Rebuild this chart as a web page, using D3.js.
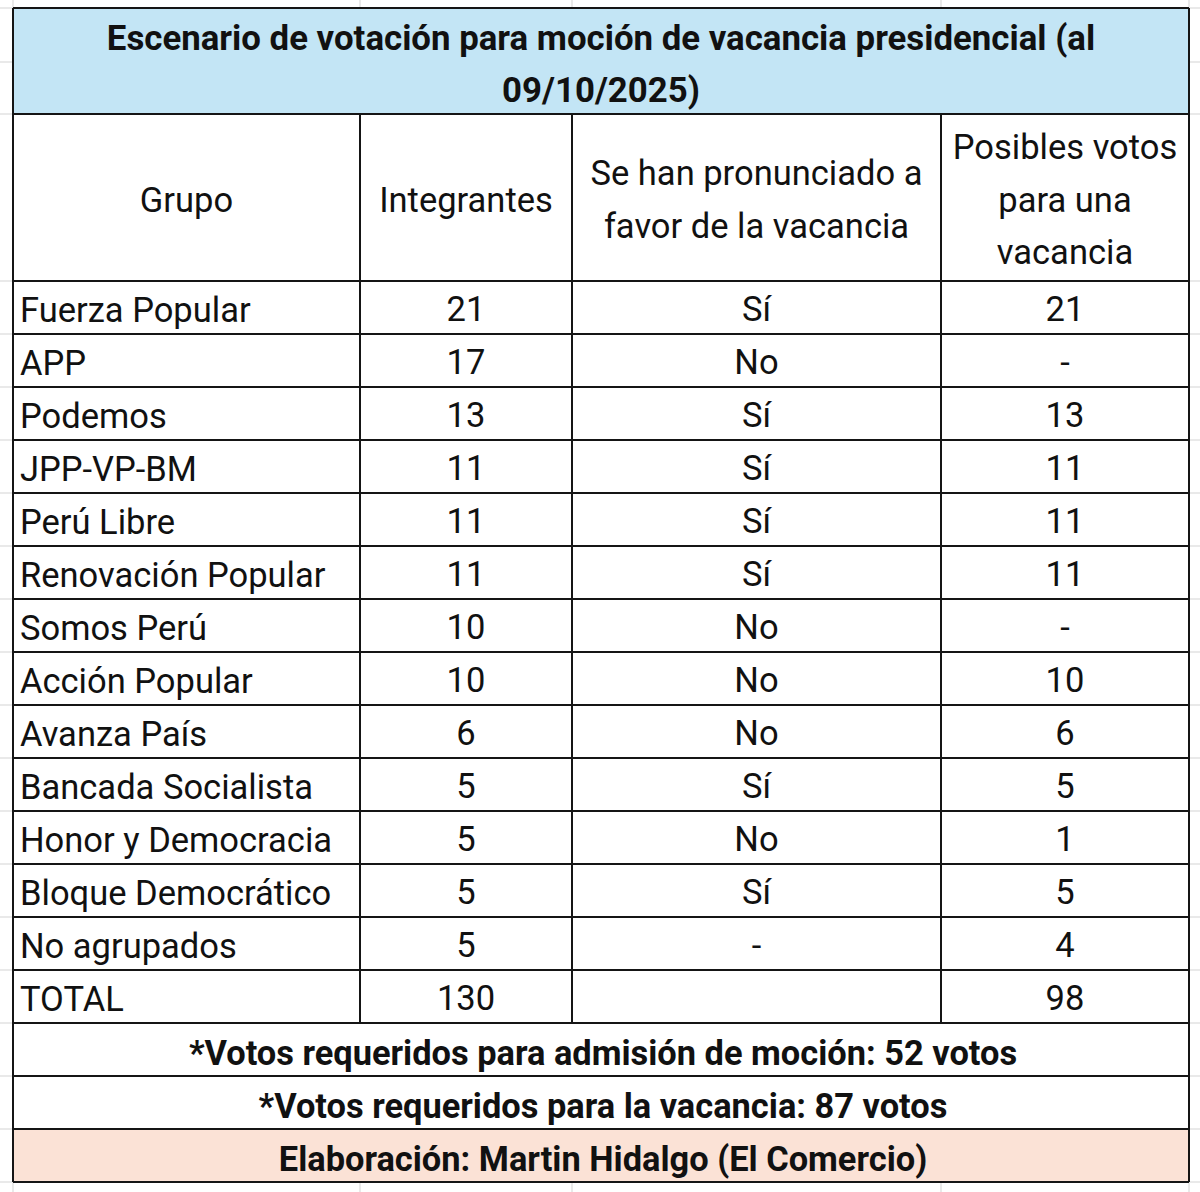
<!DOCTYPE html>
<html>
<head>
<meta charset="utf-8">
<script src="https://cdn.jsdelivr.net/npm/d3@7"></script>
<style>
  body { margin: 0; background: #fff; }
  text { font-family: Roboto, "Noto Sans", sans-serif; fill: #111; }
</style>
</head>
<body>
<div id="chart"></div>
<script>
// table data
var titleLines = ["Escenario de votación para moción de vacancia presidencial (al", "09/10/2025)"];
var headers = [["Grupo"], ["Integrantes"], ["Se han pronunciado a", "favor de la vacancia"], ["Posibles votos", "para una", "vacancia"]];
var groups = ["Fuerza Popular", "APP", "Podemos", "JPP-VP-BM", "Perú Libre", "Renovación Popular", "Somos Perú",
  "Acción Popular", "Avanza País", "Bancada Socialista", "Honor y Democracia", "Bloque Democrático", "No agrupados", "TOTAL"];
var integrantes = ["21", "17", "13", "11", "11", "11", "10", "10", "6", "5", "5", "5", "5", "130"];
var pronunciado = ["Sí", "No", "Sí", "Sí", "Sí", "Sí", "No", "No", "No", "Sí", "No", "Sí", "-", ""];
var posibles = ["21", "-", "13", "11", "11", "11", "-", "10", "6", "5", "1", "5", "4", "98"];
var notes = ["*Votos requeridos para admisión de moción: 52 votos", "*Votos requeridos para la vacancia: 87 votos"];
var credit = "Elaboración: Martin Hidalgo (El Comercio)";

var width = 1200, height = 1192;
var colEdges = [13, 360, 572, 941, 1189];
var left = colEdges[0], right = colEdges[4];
var top0 = 8, titleBottom = 114, headBottom = 281;
var footH = 53;
var fs = 34.5; // body font size

var svg = d3.select("#chart").append("svg")
  .attr("width", width)
  .attr("height", height);

// rows of the body
var y = d3.scaleBand()
  .domain(groups)
  .range([headBottom, headBottom + groups.length * 53])
  .padding(0);
var bodyBottom = y.range()[1];
var footTops = [bodyBottom, bodyBottom + footH, bodyBottom + 2 * footH];
var tableBottom = bodyBottom + 3 * footH;

// faint spreadsheet grid behind the table
var gridY = [top0, 62, titleBottom].concat(groups.map(g => y(g)), footTops, [tableBottom]);
svg.append("g").selectAll("line").data(gridY).enter().append("line")
  .attr("x1", 0).attr("x2", width)
  .attr("y1", d => d).attr("y2", d => d)
  .attr("stroke", "#e2e2e2").attr("stroke-width", 1.5);
svg.append("g").selectAll("line").data(colEdges).enter().append("line")
  .attr("x1", d => d).attr("x2", d => d)
  .attr("y1", 0).attr("y2", height)
  .attr("stroke", "#e2e2e2").attr("stroke-width", 1.5);

// cell backgrounds
svg.append("rect").attr("x", left).attr("y", top0).attr("width", right - left).attr("height", titleBottom - top0)
  .attr("fill", "#c3e5f5");
svg.append("rect").attr("x", left).attr("y", titleBottom).attr("width", right - left).attr("height", footTops[2] - titleBottom)
  .attr("fill", "#fff");
svg.append("rect").attr("x", left).attr("y", footTops[2]).attr("width", right - left).attr("height", footH)
  .attr("fill", "#fbe2d6");

// title
svg.append("g").selectAll("text").data(titleLines).enter().append("text")
  .attr("x", (left + right) / 2)
  .attr("y", (d, i) => 50 + i * 52)
  .attr("text-anchor", "middle")
  .attr("font-size", 34.8)
  .attr("font-weight", "bold")
  .text(d => d);

// header cells
var cx = i => (colEdges[i] + colEdges[i + 1]) / 2;
var head = svg.append("g");
headers.forEach(function (lines, i) {
  var mid = (titleBottom + headBottom) / 2 + 14;
  lines.forEach(function (t, j) {
    head.append("text")
      .attr("x", cx(i))
      .attr("y", mid + (j - (lines.length - 1) / 2) * 52.5)
      .attr("text-anchor", "middle")
      .attr("font-size", fs)
      .text(t);
  });
});

// body rows
var body = svg.append("g");
body.selectAll(".grp").data(groups).enter().append("text")
  .attr("class", "grp")
  .attr("x", left + 7)
  .attr("y", d => y(d) + 41)
  .attr("font-size", fs)
  .text(d => d);
[integrantes, pronunciado, posibles].forEach(function (col, k) {
  body.selectAll(".c" + k).data(col).enter().append("text")
    .attr("class", "c" + k)
    .attr("x", cx(k + 1))
    .attr("y", (d, i) => y(groups[i]) + 40)
    .attr("text-anchor", "middle")
    .attr("font-size", fs)
    .text(d => d);
});

// footer notes
svg.append("g").selectAll("text").data(notes.concat([credit])).enter().append("text")
  .attr("x", (left + right) / 2 + 2)
  .attr("y", (d, i) => footTops[i] + 42)
  .attr("text-anchor", "middle")
  .attr("font-size", 34.4)
  .attr("font-weight", "bold")
  .text(d => d);

// borders
var borders = svg.append("g").attr("stroke", "#151515").attr("stroke-width", 2).attr("fill", "none");
var hLines = [top0, titleBottom].concat(groups.map(g => y(g)), footTops, [tableBottom]);
borders.selectAll(".h").data(hLines).enter().append("line")
  .attr("class", "h")
  .attr("x1", left).attr("x2", right)
  .attr("y1", d => d).attr("y2", d => d);
borders.selectAll(".v").data(colEdges).enter().append("line")
  .attr("class", "v")
  .attr("x1", d => d).attr("x2", d => d)
  .attr("y1", (d, i) => (i === 0 || i === 4) ? top0 : titleBottom)
  .attr("y2", (d, i) => (i === 0 || i === 4) ? tableBottom : bodyBottom);
</script>
</body>
</html>
